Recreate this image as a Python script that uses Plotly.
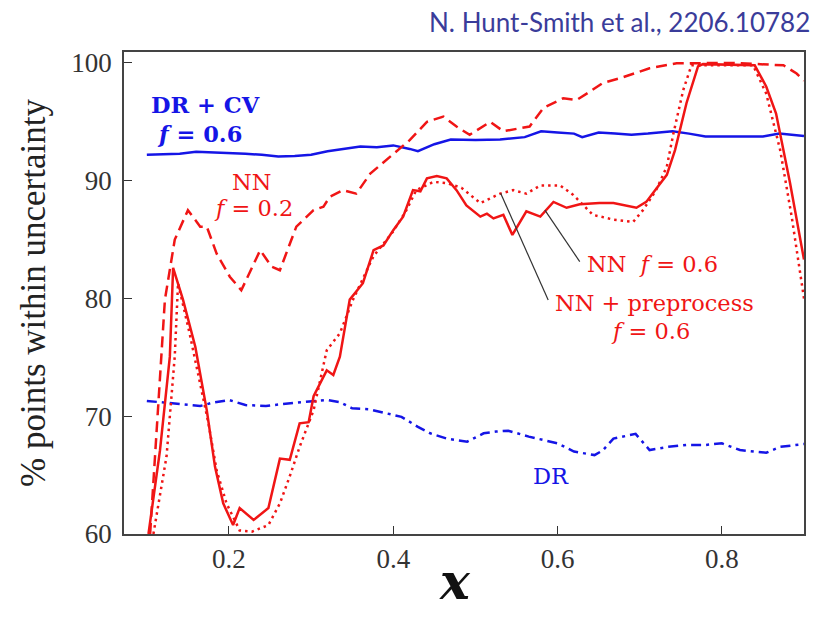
import plotly.graph_objects as go

# ---- data ----
drcv_x = [0.10,0.12,0.14,0.16,0.18,0.20,0.22,0.24,0.26,0.28,0.30,0.32,0.34,0.36,0.38,0.40,0.42,0.43,0.45,0.47,0.50,0.53,0.56,0.58,0.60,0.62,0.63,0.65,0.67,0.69,0.71,0.74,0.76,0.78,0.80,0.82,0.85,0.87,0.90]
drcv_y = [92.2,92.25,92.3,92.45,92.4,92.4,92.3,92.2,92.05,92.1,92.2,92.5,92.7,92.9,92.85,93.0,92.7,92.5,93.1,93.5,93.45,93.5,93.7,94.2,94.1,94.0,93.7,94.1,94.0,93.9,94.0,94.2,94.0,93.75,93.75,93.75,93.75,94.0,93.8]

dr_x = [0.10,0.13,0.165,0.18,0.20,0.22,0.245,0.28,0.32,0.335,0.35,0.37,0.39,0.41,0.43,0.445,0.465,0.49,0.51,0.525,0.54,0.565,0.60,0.62,0.645,0.655,0.668,0.68,0.695,0.712,0.735,0.757,0.78,0.80,0.822,0.854,0.871,0.90]
dr_y = [71.3,71.1,70.87,71.15,71.38,70.95,70.87,71.15,71.38,71.2,70.67,70.6,70.25,69.95,69.1,68.55,68.1,67.84,68.55,68.7,68.77,68.27,67.7,67.0,66.7,67.1,68.1,68.27,68.5,67.13,67.4,67.56,67.56,67.7,67.13,66.9,67.4,67.64]

nn02_x = [0.104,0.113,0.122,0.134,0.150,0.165,0.173,0.185,0.201,0.215,0.238,0.252,0.262,0.282,0.303,0.315,0.323,0.339,0.355,0.372,0.400,0.420,0.441,0.461,0.477,0.493,0.518,0.534,0.566,0.583,0.607,0.623,0.639,0.655,0.676,0.712,0.745,0.814,0.875,0.891,0.900]
nn02_y = [60,70,79.9,85.0,87.5,86.1,86.1,83.8,81.85,80.7,84.1,82.7,82.4,86.1,87.5,87.8,88.65,89.2,88.9,90.6,92.3,93.45,95.0,95.45,94.6,93.9,95.0,94.2,94.6,96.2,97.0,96.85,97.55,98.3,98.7,99.55,99.97,100,99.8,99.1,98.5]

nn06_x = [0.102,0.116,0.128,0.132,0.144,0.159,0.173,0.183,0.193,0.205,0.213,0.230,0.248,0.262,0.274,0.286,0.297,0.303,0.319,0.327,0.335,0.347,0.363,0.376,0.388,0.400,0.412,0.424,0.433,0.441,0.453,0.465,0.477,0.489,0.506,0.514,0.522,0.534,0.545,0.562,0.579,0.595,0.611,0.627,0.651,0.668,0.696,0.708,0.733,0.743,0.757,0.771,0.777,0.840,0.854,0.866,0.883,0.900]
nn06_y = [60,67.1,75.06,82.6,79.9,75.9,70.5,65.7,62.6,60.76,62.2,61.2,62.2,66.4,66.3,69.4,69.5,71.7,73.9,73.5,75.06,79.9,81.3,84.1,84.5,85.8,86.95,89.2,89.1,90.2,90.4,90.2,89.2,87.9,86.95,87.2,86.8,87.1,85.4,87.4,86.95,88.2,87.7,88.0,88.1,88.1,87.7,88.2,90.5,92.6,96.6,99.7,99.9,99.8,98.0,95.7,89.8,83.3]

nnpp_x = [0.108,0.124,0.134,0.138,0.152,0.165,0.175,0.185,0.197,0.213,0.228,0.248,0.262,0.274,0.286,0.303,0.319,0.335,0.351,0.376,0.400,0.416,0.428,0.449,0.465,0.483,0.506,0.530,0.546,0.562,0.579,0.603,0.619,0.643,0.668,0.692,0.704,0.720,0.733,0.741,0.753,0.763,0.838,0.854,0.871,0.885,0.900]
nnpp_y = [60,66.6,75.1,81.3,77.05,72.8,69.4,65.4,62.6,60.3,60.2,60.76,62.6,64.9,67.4,70.5,75.6,77.05,79.9,83.6,85.7,87.5,89.2,89.9,89.8,89.4,88.1,88.9,89.2,88.9,89.6,89.6,88.8,87.1,86.7,86.5,87.5,89.2,91.2,94.0,97.7,99.8,99.8,97.4,92.6,86.95,80.0]

x_ticks = [0.2, 0.4, 0.6, 0.8]
y_ticks = [60, 70, 80, 90, 100]

RED = "#f01515"
BLUE = "#1515e6"
SERIF = "Liberation Serif"
LABSERIF = "DejaVu Serif"

fig = go.Figure()
fig.add_trace(go.Scatter(x=drcv_x, y=drcv_y, mode="lines", line=dict(color=BLUE, width=2.5)))
fig.add_trace(go.Scatter(x=dr_x, y=dr_y, mode="lines", line=dict(color=BLUE, width=2.5, dash="10px,5px,3px,5px")))
fig.add_trace(go.Scatter(x=nn02_x, y=nn02_y, mode="lines", line=dict(color=RED, width=2.5, dash="11px,6px")))
fig.add_trace(go.Scatter(x=nnpp_x, y=nnpp_y, mode="lines", line=dict(color=RED, width=2.5, dash="2.5px,4px")))
fig.add_trace(go.Scatter(x=nn06_x, y=nn06_y, mode="lines", line=dict(color=RED, width=2.5)))

# leader lines
fig.add_shape(type="line", xref="x", yref="y", x0=0.627, y0=83.13, x1=0.5846, y1=87.5,
              line=dict(color="#333333", width=1.2))
fig.add_shape(type="line", xref="x", yref="y", x0=0.5886, y0=79.87, x1=0.5307, y1=88.93,
              line=dict(color="#333333", width=1.2))

def lab(text, x, y, color, size=22.5):
    fig.add_annotation(x=x, y=y, xref="x", yref="y", text=text, showarrow=False,
                       font=dict(family=LABSERIF, size=size, color=color),
                       xanchor="center", yanchor="middle")

lab("<b>DR + CV</b>", 0.1708, 96.4, BLUE)
lab("<b><i>f</i> = 0.6</b>", 0.1647, 94.0, BLUE)
lab("NN", 0.228, 89.9, RED)
lab("<i>f</i> = 0.2", 0.2304, 87.7, RED)
lab("NN  <i>f</i> = 0.6", 0.716, 82.95, RED)
lab("NN + preprocess", 0.7184, 79.65, RED)
lab("<i>f</i> = 0.6", 0.7136, 77.25, RED)
lab("DR", 0.5919, 64.95, BLUE)

fig.add_annotation(x=1.012, y=1.062, xref="paper", yref="paper", text="N. Hunt-Smith et al., 2206.10782",
                   showarrow=False, xanchor="right", yanchor="middle",
                   font=dict(family="Lato", size=26, color="#3a3c9a"))

# x-axis title placed as an annotation for precise positioning
fig.add_annotation(x=0.4868, y=-0.098, xref="paper", yref="paper", text="<b><i>x</i></b>",
                   showarrow=False, xanchor="center", yanchor="middle",
                   font=dict(family=LABSERIF, size=50, color="#111111"))

axis_common = dict(showgrid=False, zeroline=False, showline=True, mirror=True,
                   linecolor="#444444", linewidth=1.5, ticks="inside", ticklen=8,
                   tickcolor="#333333", tickwidth=1.2,
                   tickfont=dict(family=SERIF, size=27, color="#333333"))

fig.update_layout(
    width=817, height=617,
    margin=dict(l=124, r=13, t=52, b=83),
    paper_bgcolor="white", plot_bgcolor="white",
    font=dict(family=SERIF, color="#222222"),
    showlegend=False,
    xaxis=dict(range=[0.0722, 0.9], tickvals=x_ticks, ticktext=[str(v) for v in x_ticks],
               **axis_common),
    yaxis=dict(range=[60, 100.93], tickvals=y_ticks, ticktext=[str(v) for v in y_ticks],
               ticklabelstandoff=5,
               title=dict(text="% points within uncertainty", font=dict(family=SERIF, size=35, color="#222222"), standoff=15),
               **axis_common),
)

fig.write_html("out.html")
